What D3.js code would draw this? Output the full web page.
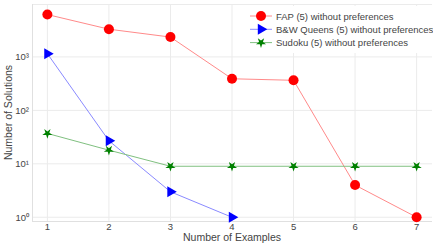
<!DOCTYPE html>
<html><head><meta charset="utf-8">
<script src="https://cdn.jsdelivr.net/npm/d3@7"></script>
<style>body{margin:0;background:#fff}svg{display:block}text{font-family:"Liberation Sans",Arial,sans-serif}</style>
</head><body><svg id="c" width="433" height="251"></svg>
<script>
const examples = [1,2,3,4,5,6,7];
const fapValues = [6200,3300,2350,390,365,4,1];
const queensExamples = [1,2,3,4];
const queensValues = [1150,27,3,1];
const sudokuValues = [37,18,9,9,9,9,9];
const xTicks = [1,2,3,4,5,6,7];
const yTicks = [1,10,100,1000];
const yTickLabels = ["10\u2070","10\u00b9","10\u00b2","10\u00b3"];
const seriesNames = ["FAP (5) without preferences","B&W Queens (5) without preferences","Sudoku (5) without preferences"];

const svg = d3.select("#c");
const L=32, R=432, T=4, B=221;
const x = d3.scaleLinear().domain([0.75,7.25]).range([L,R]);
const y = d3.scaleLog().domain([Math.pow(10,-0.07),Math.pow(10,3.99)]).range([B,T]);
const grid="#ebebeb";
const g = svg.append("g");
g.selectAll(".vx").data(xTicks).join("line").attr("x1",d=>x(d)).attr("x2",d=>x(d)).attr("y1",T).attr("y2",B).attr("stroke",grid).attr("stroke-width",1);
g.selectAll(".hy").data(yTicks).join("line").attr("y1",d=>y(d)).attr("y2",d=>y(d)).attr("x1",L).attr("x2",R).attr("stroke",grid).attr("stroke-width",1);
g.append("line").attr("x1",L).attr("x2",R).attr("y1",T+0.5).attr("y2",T+0.5).attr("stroke",grid);
g.append("line").attr("x1",L+0.5).attr("x2",L+0.5).attr("y1",T).attr("y2",B).attr("stroke","#e0e0e0");
g.append("line").attr("x1",L).attr("x2",R).attr("y1",B+0.5).attr("y2",B+0.5).attr("stroke","#e0e0e0");
g.selectAll(".xt").data(xTicks).join("text").attr("x",d=>x(d)).attr("y",230).attr("text-anchor","middle").attr("font-size",9.5).attr("fill","#444").text(d=>d);
g.selectAll(".yt").data(yTicks).join("text").attr("x",29).attr("y",d=>y(d)+3.5).attr("text-anchor","end").attr("font-size",9.5).attr("fill","#444").text((d,i)=>yTickLabels[i]);
svg.append("text").attr("x",(L+R)/2).attr("y",241).attr("text-anchor","middle").attr("font-size",10.5).attr("fill","#444").text("Number of Examples");
svg.append("text").attr("transform",`translate(12,${(T+B)/2}) rotate(-90)`).attr("text-anchor","middle").attr("font-size",10.5).attr("fill","#444").text("Number of Solutions");

const line = d3.line().x(d=>x(d[0])).y(d=>y(d[1]));
const fap = examples.map((e,i)=>[e,fapValues[i]]);
const qn = queensExamples.map((e,i)=>[e,queensValues[i]]);
const sd = examples.map((e,i)=>[e,sudokuValues[i]]);
const colors = {fap:["#ff8a8a","#ff0000"], qn:["#8a8aff","#0000ff"], sd:["#80c080","#008000"]};
const star = d3.symbol().type(d3.symbolStar).size(32);
const tri = d3.symbol().type(d3.symbolTriangle).size(52);
function drawMarker(sel, kind){
  if(kind==="fap") sel.append("circle").attr("r",5).attr("fill",colors.fap[1]);
  else if(kind==="qn") sel.append("path").attr("d",tri()).attr("transform","rotate(90)").attr("fill",colors.qn[1]);
  else sel.append("path").attr("d",star()).attr("transform","rotate(180)").attr("fill",colors.sd[1]);
}
[["fap",fap],["qn",qn],["sd",sd]].forEach(([k,data])=>{
  g.append("path").attr("d",line(data)).attr("fill","none").attr("stroke",colors[k][0]).attr("stroke-width",1);
  data.forEach(p=>{ const m=g.append("g").attr("transform",`translate(${x(p[0])},${y(p[1])})`); drawMarker(m,k);});
});
const lg = svg.append("g");
lg.append("rect").attr("x",246).attr("y",6).attr("width",185).attr("height",47).attr("fill","#fff");
["fap","qn","sd"].forEach((k,i)=>{
  const yy = 16 + i*13.3;
  lg.append("line").attr("x1",250).attr("x2",272).attr("y1",yy).attr("y2",yy).attr("stroke",colors[k][0]).attr("stroke-width",1);
  drawMarker(lg.append("g").attr("transform",`translate(261,${yy})`),k);
  lg.append("text").attr("x",276).attr("y",yy+3.5).attr("font-size",9.5).attr("fill","#444").text(seriesNames[i]);
});
</script></body></html>
